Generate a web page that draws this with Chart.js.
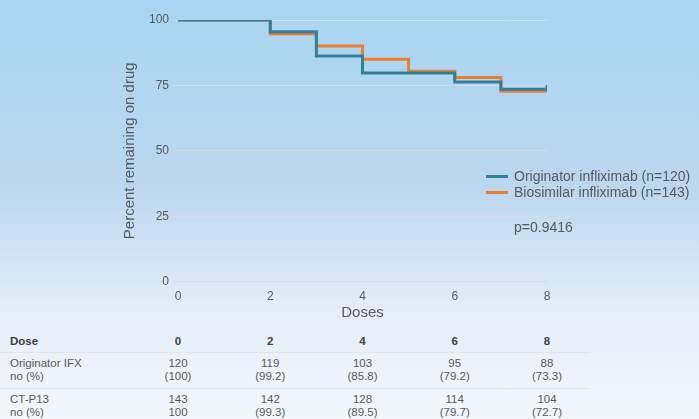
<!DOCTYPE html>
<html>
<head>
<meta charset="utf-8">
<script src="https://cdn.jsdelivr.net/npm/chart.js@4/dist/chart.umd.min.js"></script>
<style>
  html, body { margin: 0; padding: 0; }
  body {
    width: 699px; height: 419px; overflow: hidden; position: relative;
    background: linear-gradient(to bottom, #a8d5f1 0%, #bcd7ef 45%, #e4eef8 75%, #f3f7fc 100%);
    font-family: "Liberation Sans", Arial, sans-serif; color: #595959;
  }
  #wrap { position: absolute; left: 0; top: 0; width: 699px; height: 322px; }
  .legend { position: absolute; left: 486px; font-size: 14px; line-height: 16px; color: #595959; white-space: nowrap; }
  .legend span.sw { display: inline-block; width: 22px; height: 3px; vertical-align: middle; margin-right: 6px; position: relative; top: -1px; }
  .pval { position: absolute; left: 514px; top: 219px; font-size: 14px; line-height: 16px; color: #595959; }
  .cell { position: absolute; font-size: 11.5px; line-height: 13px; color: #595959; text-align: center; width: 60px; }
  .lbl { position: absolute; left: 10px; font-size: 11.5px; line-height: 13px; color: #595959; }
  .hdr { font-weight: bold; color: #404040; }
  .sep { position: absolute; left: 0; width: 590px; height: 1px; background: #dfe6ee; }
</style>
</head>
<body>
<div id="wrap"><canvas id="km"></canvas></div>
<div class="legend" style="top:168px"><span class="sw" style="background:#31809a"></span>Originator infliximab (n=120)</div>
<div class="legend" style="top:184px"><span class="sw" style="background:#ed7d31"></span>Biosimilar infliximab (n=143)</div>
<div class="pval">p=0.9416</div>
<div id="table"></div>
<script>
// step points: [dose, percent]
const originatorDoses = [0, 2, 3, 4, 6, 7, 8]
const originatorPct = [100, 95.5, 86.2, 79.7, 76.3, 73.5, 73.5]
const biosimilarDoses = [0, 2, 3, 4, 5, 6, 7, 8]
const biosimilarPct = [100, 94.7, 90.1, 85.0, 80.4, 78.0, 72.8, 72.8]
// censor marks
const originatorCensor = [[8, 74.0]]
const biosimilarCensor = [[1, 100.4]]

const xTicks = [0, 2, 4, 6, 8]
const tableDoses = ["0", "2", "4", "6", "8"]
const originatorN = ["120", "119", "103", "95", "88"]
const originatorP = ["(100)", "(99.2)", "(85.8)", "(79.2)", "(73.3)"]
const ctN = ["143", "142", "128", "114", "104"]
const ctP = ["100", "(99.3)", "(89.5)", "(79.7)", "(72.7)"]

const teal = "#31809a"
const orange = "#ed7d31"

const toPts = (xs, ys) => xs.map((x, i) => ({ x: x, y: ys[i] }))

const chart = new Chart(document.getElementById("km"), {
  type: "line",
  data: {
    datasets: [
      {
        label: "Originator infliximab (n=120)",
        data: toPts(originatorDoses, originatorPct),
        borderColor: teal, borderWidth: 3, stepped: "before",
        pointRadius: 0, fill: false
      },
      {
        label: "Biosimilar infliximab (n=143)",
        data: toPts(biosimilarDoses, biosimilarPct),
        borderColor: orange, borderWidth: 3, stepped: "before",
        pointRadius: 0, fill: false
      },
      {
        type: "scatter",
        data: originatorCensor.map(p => ({ x: p[0], y: p[1] })),
        pointStyle: "line", rotation: 90, pointRadius: 3,
        borderColor: teal, borderWidth: 3
      },
      {
        type: "scatter",
        data: biosimilarCensor.map(p => ({ x: p[0], y: p[1] })),
        pointStyle: "line", rotation: 90, pointRadius: 3,
        borderColor: orange, borderWidth: 2
      }
    ]
  },
  options: {
    responsive: true,
    maintainAspectRatio: false,
    animation: false,
    layout: { padding: { left: 110, right: 152, top: 20, bottom: 0 } },
    plugins: { legend: { display: false }, tooltip: { enabled: false } },
    scales: {
      x: {
        type: "linear", min: 0, max: 8,
        afterBuildTicks: s => { s.ticks = xTicks.map(v => ({ value: v })) },
        grid: { display: false },
        border: { display: false },
        ticks: { color: "#595959", font: { family: "Liberation Sans", size: 12 }, padding: 0 },
        title: { display: true, text: "Doses", color: "#595959", font: { family: "Liberation Sans", size: 15 }, padding: { top: 0, bottom: 0 } }
      },
      y: {
        min: 0, max: 100,
        afterFit: s => { s.width = 68 },
        ticks: { stepSize: 25, color: "#595959", font: { family: "Liberation Sans", size: 12 }, padding: 4 },
        grid: { color: "#d9dde3", lineWidth: 1, tickLength: 5 },
        border: { display: false },
        title: { display: true, text: "Percent remaining on drug", color: "#595959", font: { family: "Liberation Sans", size: 15 }, padding: { top: 11, bottom: 0 } }
      }
    }
  }
})

// risk table aligned to the x scale
const xs = chart.scales.x
const tbl = document.getElementById("table")
function addCell(cls, txt, x, y) {
  const d = document.createElement("div")
  d.className = cls
  d.textContent = txt
  d.style.top = y + "px"
  if (x !== null) d.style.left = (x - 30) + "px"
  tbl.appendChild(d)
}
addCell("lbl hdr", "Dose", null, 335)
addCell("lbl", "Originator IFX", null, 357)
addCell("lbl", "no (%)", null, 370)
addCell("lbl", "CT-P13", null, 393)
addCell("lbl", "no (%)", null, 406)
tableDoses.forEach((d, i) => {
  const px = xs.getPixelForValue(xTicks[i])
  addCell("cell hdr", d, px, 335)
  addCell("cell", originatorN[i], px, 357)
  addCell("cell", originatorP[i], px, 370)
  addCell("cell", ctN[i], px, 393)
  addCell("cell", ctP[i], px, 406)
})
const s1 = document.createElement("div"); s1.className = "sep"; s1.style.top = "352px"; tbl.appendChild(s1)
const s2 = document.createElement("div"); s2.className = "sep"; s2.style.top = "388px"; tbl.appendChild(s2)
</script>
</body>
</html>
